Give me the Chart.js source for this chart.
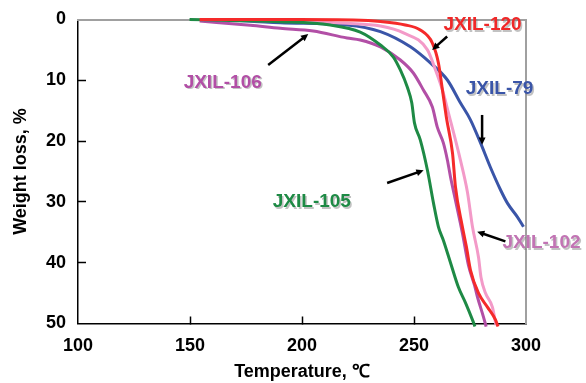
<!DOCTYPE html>
<html>
<head>
<meta charset="utf-8">
<script src="https://cdn.jsdelivr.net/npm/chart.js@4/dist/chart.umd.min.js"></script>
<style>
  html, body { margin: 0; padding: 0; background: #fff; }
  #wrap { width: 586px; height: 383px; }
</style>
</head>
<body>
<div id="wrap"><canvas id="tga" width="586" height="383"></canvas></div>
<script>
// TGA curves, temperature (°C) vs weight loss (%)
const temp120 = [154.3, 199.2, 222.9, 235.0, 246.1, 252.8, 258.2, 260.9, 262.7, 264.5, 267.2, 268.5, 271.6, 273.4, 275.2, 278.8, 282.8, 286.4, 287.5];
const loss120 = [0, 0, 0.08, 0.33, 0.9, 1.73, 3.87, 7.15, 11.6, 16.2, 22.0, 27.5, 34.1, 37.4, 41.2, 45.0, 47.3, 49.4, 50.5];

const temp105 = [149.8, 167.9, 190.3, 212.6, 226.0, 235.0, 240.8, 243.9, 247.0, 249.0, 250.2, 252.8, 256.0, 258.7, 260.9, 263.1, 266.3, 269.8, 273.0, 276.1, 277.2];
const loss105 = [0, 0.16, 0.36, 0.9, 2.06, 4.19, 6.17, 8.3, 11.1, 13.7, 17.0, 19.8, 24.8, 30.2, 34.1, 36.3, 40.0, 44.0, 46.6, 49.4, 50.5];

const temp106 = [154.3, 176.9, 190.3, 205.0, 220.1, 226.0, 235.0, 243.9, 249.7, 254.2, 258.2, 260.4, 263.1, 264.9, 266.3, 268.5, 271.6, 274.3, 277.0, 278.3, 281.0, 282.2];
const loss106 = [0.25, 0.95, 1.45, 1.89, 3.04, 3.37, 4.52, 6.66, 8.8, 11.6, 14.4, 17.7, 20.3, 23.1, 25.9, 29.7, 35.1, 40.4, 43.7, 45.6, 48.9, 50.5];

const temp102 = [154.5, 190.3, 220.1, 235.0, 245.3, 256.0, 259.6, 262.7, 265.4, 270.7, 273.9, 276.1, 278.8, 279.9, 281.9, 285.0, 286.6];
const loss102 = [0.08, 0.25, 0.63, 1.07, 2.2, 5.0, 8.3, 11.6, 15.4, 23.1, 28.5, 34.1, 39.1, 42.4, 45.0, 47.3, 50.3];

const temp79 = [165.0, 190.3, 220.1, 235.0, 248.4, 257.3, 264.9, 270.7, 275.2, 279.7, 284.1, 288.6, 291.7, 296.2, 298.9];
const loss79 = [0, 0.53, 0.9, 2.0, 4.5, 7.15, 9.95, 13.7, 16.5, 20.3, 24.3, 28.0, 30.2, 32.5, 34.1];

const xTicks = [100, 150, 200, 250, 300];
const yTicks = [0, 10, 20, 30, 40, 50];

// curve labels and arrows, in data units
const labels = [
    { text: "JXIL-120", x: 280.6, y: 0.9, color: "#f02828" },
    { text: "JXIL-106", x: 164.6, y: 10.4, color: "#b24fa6" },
    { text: "JXIL-79", x: 288.2, y: 11.4, color: "#3a55a8" },
    { text: "JXIL-105", x: 204.4, y: 30.0, color: "#1e8a45" },
    { text: "JXIL-102", x: 306.9, y: 36.8, color: "#c274b4" }
];
const arrows = [
    { from: [184.9, 7.5], to: [202.8, 2.4] },
    { from: [264.8, 2.8], to: [258.1, 5.0] },
    { from: [280.4, 15.7], to: [280.4, 20.6] },
    { from: [238.0, 26.9], to: [254.3, 24.8] },
    { from: [290.8, 36.5], to: [278.2, 34.9] }
];

function pts(xs, ys) {
    return xs.map((x, i) => ({ x: x, y: ys[i] }));
}

function series(label, xs, ys, color) {
    return {
        label: label,
        data: pts(xs, ys),
        borderColor: color,
        backgroundColor: color,
        borderWidth: 3,
        pointRadius: 0,
        cubicInterpolationMode: "monotone",
        clip: false
    };
}

const annotate = {
    id: "annotate",
    afterDraw(chart) {
        const ctx = chart.ctx;
        const xs = chart.scales.x;
        const ys = chart.scales.y;

        ctx.save();
        ctx.strokeStyle = "#000";
        ctx.fillStyle = "#000";
        ctx.lineWidth = 2.5;
        arrows.forEach(a => {
            const x1 = xs.getPixelForValue(a.from[0]);
            const y1 = ys.getPixelForValue(a.from[1]);
            const x2 = xs.getPixelForValue(a.to[0]);
            const y2 = ys.getPixelForValue(a.to[1]);
            const ang = Math.atan2(y2 - y1, x2 - x1);
            const head = 8;
            ctx.beginPath();
            ctx.moveTo(x1, y1);
            ctx.lineTo(x2 - Math.cos(ang) * head * 0.7, y2 - Math.sin(ang) * head * 0.7);
            ctx.stroke();
            ctx.beginPath();
            ctx.moveTo(x2, y2);
            ctx.lineTo(x2 - head * Math.cos(ang - 0.45), y2 - head * Math.sin(ang - 0.45));
            ctx.lineTo(x2 - head * Math.cos(ang + 0.45), y2 - head * Math.sin(ang + 0.45));
            ctx.closePath();
            ctx.fill();
        });

        ctx.font = "bold 19px 'Liberation Sans', Arial, sans-serif";
        ctx.textAlign = "center";
        ctx.textBaseline = "middle";
        labels.forEach(l => {
            const px = xs.getPixelForValue(l.x);
            const py = ys.getPixelForValue(l.y);
            ctx.fillStyle = "rgba(120,120,120,0.45)";
            ctx.fillText(l.text, px + 1.5, py + 1.5);
            ctx.fillStyle = l.color;
            ctx.fillText(l.text, px, py);
        });
        ctx.restore();
    }
};

const hideEnds = (ends) => (c) => (c.tick && ends.includes(c.tick.value)) ? "rgba(0,0,0,0)" : "#000";
const tickFont = { family: "'Liberation Sans', Arial, sans-serif", size: 18, weight: "bold" };
const titleFont = { family: "'Liberation Sans', Arial, sans-serif", size: 18, weight: "bold" };

new Chart(document.getElementById("tga"), {
    type: "line",
    data: {
        datasets: [
            series("JXIL-120", temp120, loss120, "#f52a2a"),
            series("JXIL-105", temp105, loss105, "#1e8a45"),
            series("JXIL-106", temp106, loss106, "#b24fa6"),
            series("JXIL-102", temp102, loss102, "#f39ac8"),
            series("JXIL-79", temp79, loss79, "#3a55a8")
        ]
    },
    options: {
        responsive: false,
        animation: false,
        layout: { padding: { top: 19.5, right: 60, left: 0, bottom: 0 } },
        plugins: {
            legend: { display: false },
            tooltip: { enabled: false }
        },
        scales: {
            x: {
                type: "linear",
                position: "bottom",
                min: 100,
                max: 300,
                afterBuildTicks: (s) => { s.ticks = xTicks.map(v => ({ value: v })); },
                afterFit: (s) => { s.height = 59.5; s.paddingLeft = 0; s.paddingRight = 0; },
                ticks: { color: "#000", font: tickFont, padding: 19 },
                grid: { drawOnChartArea: false, tickLength: -7, tickWidth: 1.5, tickColor: hideEnds([100, 300]) },
                border: { color: "#000", width: 1.5 },
                title: { display: true, text: "Temperature, ℃", color: "#000", font: titleFont, padding: { top: 0, bottom: 0 } }
            },
            y: {
                type: "linear",
                position: "left",
                reverse: true,
                min: 0,
                max: 50,
                afterBuildTicks: (s) => { s.ticks = yTicks.map(v => ({ value: v })); },
                afterFit: (s) => { s.width = 78; s.paddingTop = 0; s.paddingBottom = 0; },
                ticks: { color: "#000", font: tickFont, padding: 20 },
                grid: { drawOnChartArea: false, tickLength: -8, tickWidth: 1.5, tickColor: hideEnds([0, 50]) },
                border: { color: "#000", width: 1.5 },
                title: { display: true, text: "Weight loss, %", color: "#000", font: titleFont, padding: { top: 10, bottom: 0 } }
            },
            xTop: {
                type: "linear",
                position: "top",
                min: 100,
                max: 300,
                ticks: { display: false },
                grid: { display: false, drawTicks: false },
                border: { color: "#a0a0a0", width: 2 },
                afterFit: (s) => { s.height = 0; s.paddingLeft = 0; s.paddingRight = 0; }
            },
            yRight: {
                type: "linear",
                position: "right",
                min: 0,
                max: 50,
                reverse: true,
                ticks: { display: false },
                grid: { display: false, drawTicks: false },
                border: { color: "#a0a0a0", width: 2 },
                afterFit: (s) => { s.width = 0; s.paddingTop = 0; s.paddingBottom = 0; }
            }
        }
    },
    plugins: [annotate]
});
</script>
</body>
</html>
